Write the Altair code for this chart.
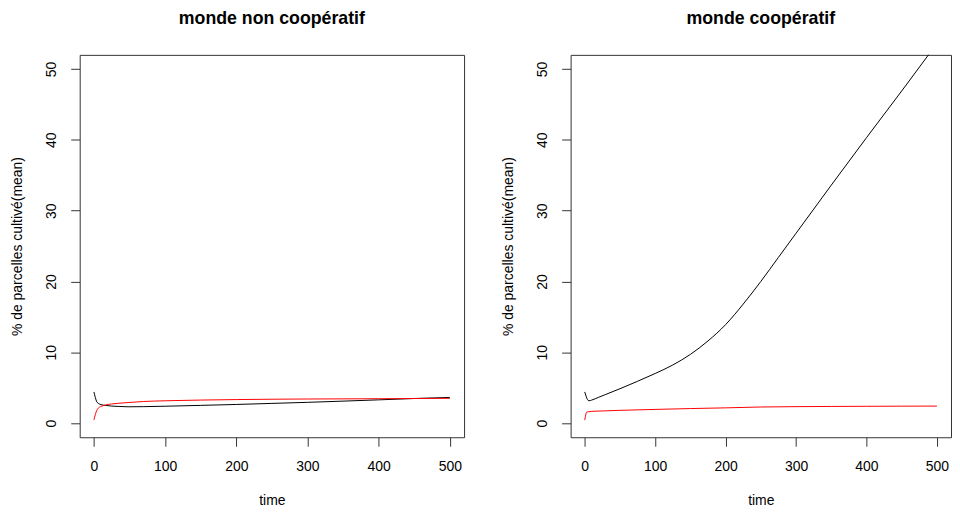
import altair as alt
import pandas as pd

# ---- data ----
titles = ["monde non coopératif", "monde coopératif"]
x_ticks = [0, 100, 200, 300, 400, 500]
y_ticks = [0, 10, 20, 30, 40, 50]

# panel 1: monde non coopératif
t_nc_black = [0, 2, 4, 6, 10, 16, 25, 35, 48, 70, 100, 150, 200, 250, 300, 350, 400, 450, 500]
v_nc_black = [4.4, 3.6, 3.0, 2.8, 2.6, 2.5, 2.4, 2.35, 2.3, 2.32, 2.38, 2.5, 2.63, 2.78, 2.93, 3.1, 3.28, 3.47, 3.62]
t_nc_red = [0, 2, 4, 6, 10, 16, 25, 35, 48, 70, 100, 150, 200, 250, 300, 350, 400, 450, 500]
v_nc_red = [0.45, 1.2, 1.8, 2.1, 2.35, 2.55, 2.7, 2.8, 2.9, 3.05, 3.15, 3.25, 3.32, 3.37, 3.4, 3.42, 3.44, 3.47, 3.5]

# panel 2: monde coopératif
t_c_black = [0, 2, 4, 6, 10, 20, 30, 50, 75, 100, 125, 150, 175, 200, 225, 250, 275, 300, 350, 400, 450, 500]
v_c_black = [4.4, 3.8, 3.3, 3.15, 3.25, 3.65, 4.05, 4.85, 5.9, 7.0, 8.2, 9.7, 11.6, 13.9, 16.8, 20.0, 23.4, 26.8, 33.6, 40.3, 46.9, 53.6]
t_c_red = [0, 1, 2, 3, 5, 10, 27, 50, 100, 150, 200, 250, 300, 350, 400, 450, 500]
v_c_red = [0.42, 0.9, 1.4, 1.55, 1.6, 1.65, 1.72, 1.8, 1.93, 2.05, 2.15, 2.27, 2.32, 2.35, 2.37, 2.39, 2.4]

FONT = "Liberation Sans"


def make_df(tb, vb, tr, vr):
    rows = [{"time": t, "value": v, "series": "a_black"} for t, v in zip(tb, vb)]
    rows += [{"time": t, "value": v, "series": "b_red"} for t, v in zip(tr, vr)]
    return pd.DataFrame(rows)


def panel(df, title, width):
    return alt.Chart(df).mark_line(clip=True, strokeWidth=1, interpolate="monotone").encode(
        x=alt.X("time:Q",
                scale=alt.Scale(domain=[-20, 520], nice=False, zero=False),
                axis=alt.Axis(values=x_ticks, title="time", grid=False, domain=False,
                              tickSize=9, tickColor="#333", labelPadding=13,
                              labelFontSize=14, labelFont=FONT, labelColor="black",
                              titleFont=FONT, titleFontSize=14, titleFontWeight="normal",
                              titleColor="black", titlePadding=21, labelFlush=False)),
        y=alt.Y("value:Q",
                scale=alt.Scale(domain=[-2, 52], nice=False, zero=False),
                axis=alt.Axis(values=y_ticks, title="% de parcelles cultivé(mean)", grid=False,
                              domain=False, tickSize=9, tickColor="#333", labelAngle=270,
                              labelAlign="center", labelBaseline="bottom", labelPadding=12,
                              labelFontSize=14, labelFont=FONT, labelColor="black",
                              titleFont=FONT, titleFontSize=14, titleFontWeight="normal",
                              titleColor="black", titlePadding=20, labelFlush=False)),
        color=alt.Color("series:N",
                        scale=alt.Scale(domain=["a_black", "b_red"], range=["#000000", "#ff0000"]),
                        legend=None),
        order=alt.Order("time:Q"),
    ).properties(
        width=width, height=384,
        title=alt.TitleParams(title, font=FONT, fontSize=17.8, fontWeight="bold",
                              color="black", offset=27, anchor="middle"),
    )


p1 = panel(make_df(t_nc_black, v_nc_black, t_nc_red, v_nc_red), titles[0], 386)
p2 = panel(make_df(t_c_black, v_c_black, t_c_red, v_c_red), titles[1], 382)

chart = alt.hconcat(p1, p2, spacing=36).properties(
    padding={"left": 2, "top": 0, "right": 0, "bottom": 0}
).configure_view(stroke="#333", strokeWidth=1)

chart.save("out.html", embed_options={"renderer": "svg", "actions": False})
